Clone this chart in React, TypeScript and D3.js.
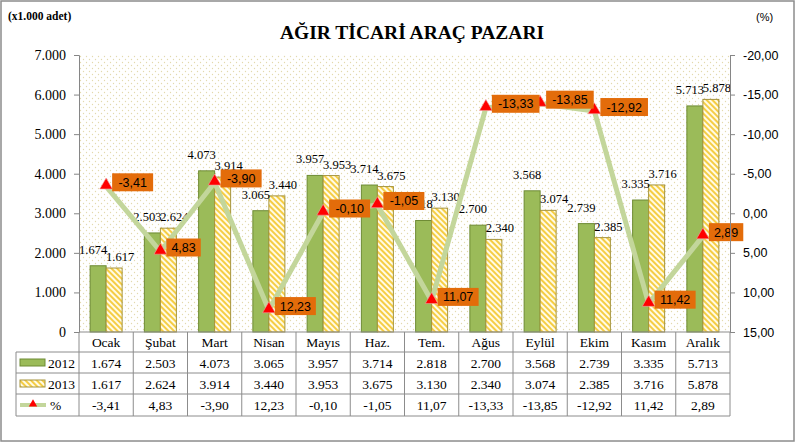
import React, { useEffect, useRef } from "react";
import * as d3 from "d3";

const months = ["Ocak", "Şubat", "Mart", "Nisan", "Mayıs", "Haz.", "Tem.", "Ağus", "Eylül", "Ekim", "Kasım", "Aralık"];
const values2012 = [1674, 2503, 4073, 3065, 3957, 3714, 2818, 2700, 3568, 2739, 3335, 5713];
const values2013 = [1617, 2624, 3914, 3440, 3953, 3675, 3130, 2340, 3074, 2385, 3716, 5878];
const changePct = [-3.41, 4.83, -3.9, 12.23, -0.1, -1.05, 11.07, -13.33, -13.85, -12.92, 11.42, 2.89];
const leftTicks = [0, 1000, 2000, 3000, 4000, 5000, 6000, 7000];
const rightTicks = [-20, -15, -10, -5, 0, 5, 10, 15];
const seriesNames = ["2012", "2013", "%"];
const title = "AĞIR TİCARİ ARAÇ PAZARI";

const W = 797;
const H = 443;
const PL = 79;
const PR = 730;
const PT = 55;
const PB = 332;
const TL = 16;
const rowH = [20, 21, 21, 22];

const fmtInt = (v: number) => String(v).replace(/\B(?=(\d{3})+(?!\d))/g, ".");
const fmtPct = (v: number) => v.toFixed(2).replace(".", ",");

const SERIF = "'Liberation Serif', 'DejaVu Serif', serif";
const SANS = "'Liberation Sans', 'DejaVu Sans', sans-serif";

export default function App() {
  const leftRef = useRef<SVGGElement>(null);
  const rightRef = useRef<SVGGElement>(null);

  const x = d3.scaleBand<string>().domain(months).range([PL, PR]).padding(0);
  const step = x.bandwidth();
  const groupW = step * 0.59;
  const x1 = d3.scaleBand<string>().domain(["2012", "2013"]).range([0, groupW]).padding(0);
  const yL = d3.scaleLinear().domain([0, 7000]).range([PB, PT]);
  const yR = d3.scaleLinear().domain([-20, 15]).range([PT, PB]);

  useEffect(() => {
    if (leftRef.current) {
      const g = d3.select(leftRef.current);
      g.selectAll("*").remove();
      g.call(
        d3.axisLeft(yL).tickValues(leftTicks).tickSize(5).tickPadding(8).tickFormat((d) => fmtInt(d as number))
      );
      g.select(".domain").attr("stroke", "#868686");
      g.selectAll(".tick line").attr("stroke", "#868686");
      g.selectAll(".tick text")
        .attr("font-family", SERIF)
        .attr("font-size", 14)
        .attr("fill", "#000");
    }
    if (rightRef.current) {
      const g = d3.select(rightRef.current);
      g.selectAll("*").remove();
      g.call(
        d3.axisRight(yR).tickValues(rightTicks).tickSize(5).tickPadding(8).tickFormat((d) => fmtPct(d as number))
      );
      g.select(".domain").attr("stroke", "#868686");
      g.selectAll(".tick line").attr("stroke", "#868686");
      g.selectAll(".tick text")
        .attr("font-family", SANS)
        .attr("font-size", 12.5)
        .attr("fill", "#000");
    }
  }, []);

  const cx = (m: string) => (x(m) as number) + step / 2;
  const gx = (m: string) => cx(m) - groupW / 2;

  const line = d3
    .line<number>()
    .x((_, i) => cx(months[i]))
    .y((d) => yR(d));

  const tri = d3.symbol().type(d3.symbolTriangle).size(70);

  const rowsY: number[] = [PB];
  rowH.forEach((h, i) => rowsY.push(rowsY[i] + h));

  return (
    <svg width={W} height={H} style={{ position: "absolute", left: 0, top: 0, background: "#fff" }}>
      <defs>
        <pattern id="dots" width="6" height="6" patternUnits="userSpaceOnUse" x={PL} y={PT}>
          <rect width="6" height="6" fill="#fff" />
          <circle cx="1.5" cy="1.5" r="0.65" fill="#e3d9ad" />
          <circle cx="4.5" cy="4.5" r="0.65" fill="#e3d9ad" />
        </pattern>
        <pattern id="hatch" width="4" height="4" patternUnits="userSpaceOnUse" patternTransform="rotate(-45)">
          <rect width="4" height="4" fill="#fffbe6" />
          <rect width="2" height="4" fill="#f5cd45" />
        </pattern>
      </defs>
      <rect x={1} y={1} width={793} height={440} fill="#fff" stroke="#8c8c8c" strokeWidth={1.5} />

      <text x={8} y={20} fontFamily={SERIF} fontWeight="bold" fontSize={11.5}>(x1.000 adet)</text>
      <text x={756} y={21} fontFamily={SANS} fontSize={11}>(%)</text>
      <text x={412} y={39} textAnchor="middle" fontFamily={SERIF} fontWeight="bold" fontSize={19.5}>{title}</text>

      <rect x={PL} y={PT} width={PR - PL} height={PB - PT} fill="url(#dots)" />

      {months.map((m, i) => (
        <g key={m}>
          <rect
            x={gx(m) + (x1("2012") as number)}
            y={yL(values2012[i])}
            width={x1.bandwidth()}
            height={PB - yL(values2012[i])}
            fill="#9bbb59"
            stroke="#6e8b34"
            strokeWidth={1}
          />
          <rect
            x={gx(m) + (x1("2013") as number)}
            y={yL(values2013[i])}
            width={x1.bandwidth()}
            height={PB - yL(values2013[i])}
            fill="url(#hatch)"
            stroke="#a6943c"
            strokeWidth={1}
          />
        </g>
      ))}

      {months.map((m, i) => (
        <g key={"lb" + m} fontFamily={SERIF} fontSize={12.5} textAnchor="middle">
          <text x={gx(m) + (x1("2012") as number) + x1.bandwidth() / 2 - 5} y={yL(values2012[i]) - 12}>
            {fmtInt(values2012[i])}
          </text>
          <text x={gx(m) + (x1("2013") as number) + x1.bandwidth() / 2 + 6} y={yL(values2013[i]) - 7}>
            {fmtInt(values2013[i])}
          </text>
        </g>
      ))}

      <path d={line(changePct) || ""} fill="none" stroke="#c3d69b" strokeWidth={5} strokeLinejoin="round" />
      {changePct.map((v, i) => (
        <path
          key={"t" + i}
          d={tri() || ""}
          transform={`translate(${cx(months[i])},${yR(v) - 1})`}
          fill="#ff0000"
          stroke="#f4a0a0"
          strokeWidth={0.6}
        />
      ))}
      {changePct.map((v, i) => {
        const label = fmtPct(v);
        const bw = label.length * 6.6 + 8;
        const bx = cx(months[i]) + 6;
        const by = yR(v) - 4 - 9;
        return (
          <g key={"pl" + i}>
            <rect x={bx} y={by} width={bw} height={18} fill="#e36c0a" />
            <text x={bx + bw / 2} y={by + 13.5} textAnchor="middle" fontFamily={SANS} fontSize={12.5} fill="#000">
              {label}
            </text>
          </g>
        );
      })}

      <g ref={leftRef} transform={`translate(${PL},0)`} />
      <g ref={rightRef} transform={`translate(${PR},0)`} />

      {/* data table */}
      <g stroke="#8c8c8c" strokeWidth={1} fill="none">
        <line x1={PL} x2={PR} y1={rowsY[0]} y2={rowsY[0]} />
        {rowsY.slice(1).map((yy, i) => (
          <line key={"h" + i} x1={TL} x2={PR} y1={yy} y2={yy} />
        ))}
        <line x1={TL} x2={TL} y1={rowsY[1]} y2={rowsY[4]} />
        {months.map((m) => (
          <line key={"v" + m} x1={x(m) as number} x2={x(m) as number} y1={rowsY[0]} y2={rowsY[4]} />
        ))}
        <line x1={PR} x2={PR} y1={rowsY[0]} y2={rowsY[4]} />
      </g>
      <g fontFamily={SERIF} fontSize={13.5} textAnchor="middle" fill="#000">
        {months.map((m, i) => (
          <g key={"tb" + m}>
            <text x={cx(m)} y={rowsY[0] + 15}>{m}</text>
            <text x={cx(m)} y={rowsY[1] + 15.5}>{fmtInt(values2012[i])}</text>
            <text x={cx(m)} y={rowsY[2] + 15.5}>{fmtInt(values2013[i])}</text>
            <text x={cx(m)} y={rowsY[3] + 15.5}>{fmtPct(changePct[i])}</text>
          </g>
        ))}
      </g>
      {/* legend keys */}
      <rect x={20} y={rowsY[1] + 7} width={25} height={7} fill="#9bbb59" stroke="#6e8b34" strokeWidth={1} />
      <text x={48} y={rowsY[1] + 15.5} fontFamily={SERIF} fontSize={13.5}>{seriesNames[0]}</text>
      <rect x={20} y={rowsY[2] + 7} width={25} height={7} fill="url(#hatch)" stroke="#a6943c" strokeWidth={1} />
      <text x={48} y={rowsY[2] + 15.5} fontFamily={SERIF} fontSize={13.5}>{seriesNames[1]}</text>
      <line x1={20} x2={46} y1={rowsY[3] + 11} y2={rowsY[3] + 11} stroke="#c3d69b" strokeWidth={4} />
      <path d={d3.symbol().type(d3.symbolTriangle).size(30)() || ""} transform={`translate(33,${rowsY[3] + 10})`} fill="#ff0000" />
      <text x={50} y={rowsY[3] + 15.5} fontFamily={SERIF} fontSize={13.5}>{seriesNames[2]}</text>
    </svg>
  );
}
